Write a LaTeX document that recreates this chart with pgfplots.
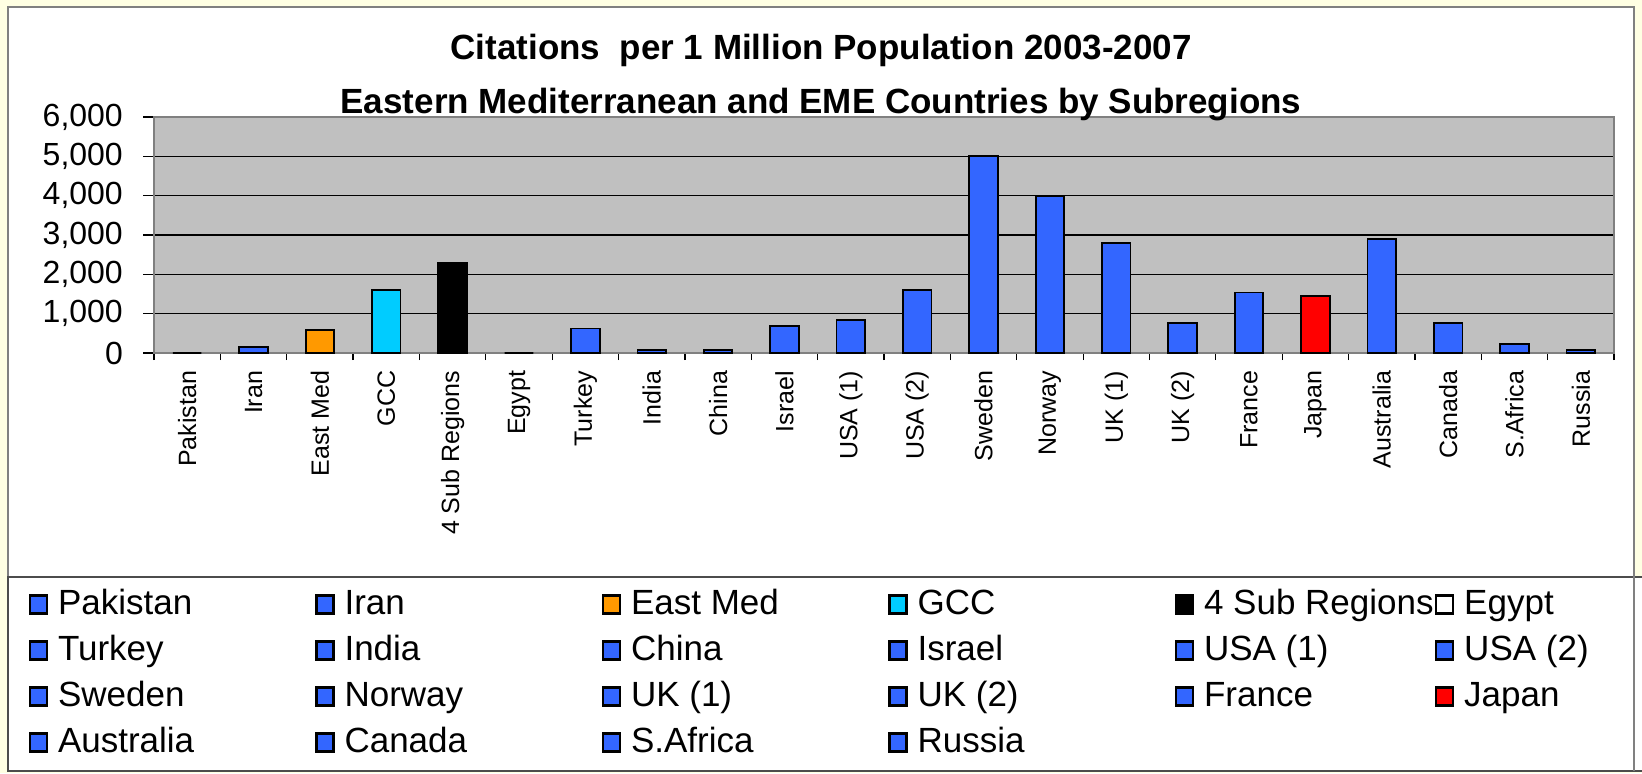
\documentclass[border=0pt]{standalone}
\usepackage{fontspec}
\setmainfont{Liberation Sans}
\usepackage{pgfplots}
\pgfplotsset{compat=1.18}
\definecolor{bgyellow}{HTML}{FFFFE3}
\definecolor{barblue}{HTML}{3366FF}
\definecolor{barorange}{HTML}{FF9900}
\definecolor{barcyan}{HTML}{00CCFF}
\definecolor{barred}{HTML}{FF0000}
\definecolor{plotgray}{HTML}{C0C0C0}
\definecolor{framegray}{HTML}{808080}
\newcommand{\E}[1]{\makebox[128.65pt][l]{#1}}
\newcommand{\F}[1]{\makebox[115.5pt][l]{#1}}
\pgfplotsset{
  sqlegend/.style={legend image code/.code={\draw[##1, line width=1.1pt] (0.5pt,-4.5pt) rectangle (9pt,4.5pt);}},
  b/.style={fill=#1, draw=black, line width=0.9pt},
}
\begin{document}
\begin{tikzpicture}
\useasboundingbox (0pt,0pt) rectangle (821pt,386.5pt);
\fill[bgyellow] (0pt,0pt) rectangle (821pt,386.5pt);
\draw[framegray, line width=0.8pt, fill=white] (4pt,1pt) rectangle (817pt,383pt);
\draw[black!70, line width=0.8pt, fill=white] (4pt,1pt) rectangle (821.5pt,98pt);
\draw[framegray, line width=0.8pt] (817pt,1pt) -- (817pt,383pt);
\begin{axis}[
  at={(77pt,210pt)}, anchor=south west,
  width=730pt, height=118pt, scale only axis,
  ymin=0, ymax=6000, xmin=-0.5, xmax=21.5,
  axis background/.style={fill=plotgray},
  ytick={0,1000,...,6000},
  ymajorgrids, grid style={black, line width=0.6pt},
  xtick={0,...,21},
  xticklabels={Pakistan,Iran,East Med,GCC,4 Sub Regions,Egypt,Turkey,India,China,Israel,USA (1),USA (2),Sweden,Norway,UK (1),UK (2),France,Japan,Australia,Canada,S.Africa,Russia},
  major x tick style={draw=none},
  minor xtick={-0.5,0.5,...,21.5},
  tick pos=left,
  tick align=outside,
  major tick length=5.4pt, minor tick length=3.5pt,
  tick style={black, line width=0.6pt},
  x tick label style={rotate=90, anchor=east, font=\fontsize{12.5}{14}\selectfont},
  y tick label style={font=\fontsize{16}{19}\selectfont, inner sep=0pt, xshift=-10pt},
  yticklabel style={/pgf/number format/1000 sep={,}, /pgf/number format/assume math mode=true},
  axis line style={framegray, line width=1.2pt},
  ybar, bar width=14.3pt, bar shift=0pt,
  every axis plot post/.append style={sqlegend},
  legend columns=6,
  legend cell align=left,
  legend style={draw=none, fill=none, at={(axis description cs:-0.0860,-0.98729)}, anchor=north west,
    font=\fontsize{17.5}{20}\selectfont, row sep=5pt, inner sep=0pt,
    nodes={inner sep=0pt, text height=14pt, text depth=4pt},
    /tikz/every odd column/.append style={column sep=5pt},
    /tikz/every even column/.append style={column sep=0pt}},
]
\addplot[b=barblue] coordinates {(0,0)};
\addlegendentry{\E{Pakistan}}
\addplot[b=barblue] coordinates {(1,150)};
\addlegendentry{\E{Iran}}
\addplot[b=barorange] coordinates {(2,580)};
\addlegendentry{\E{East Med}}
\addplot[b=barcyan] coordinates {(3,1600)};
\addlegendentry{\E{GCC}}
\addplot[b=black] coordinates {(4,2300)};
\addlegendentry{\F{4 Sub Regions}}
\addplot[b=white] coordinates {(5,0)};
\addlegendentry{\E{Egypt}}
\addplot[b=barblue] coordinates {(6,625)};
\addlegendentry{\E{Turkey}}
\addplot[b=barblue] coordinates {(7,85)};
\addlegendentry{\E{India}}
\addplot[b=barblue] coordinates {(8,85)};
\addlegendentry{\E{China}}
\addplot[b=barblue] coordinates {(9,690)};
\addlegendentry{\E{Israel}}
\addplot[b=barblue] coordinates {(10,840)};
\addlegendentry{\F{USA (1)}}
\addplot[b=barblue] coordinates {(11,1600)};
\addlegendentry{\E{USA (2)}}
\addplot[b=barblue] coordinates {(12,5000)};
\addlegendentry{\E{Sweden}}
\addplot[b=barblue] coordinates {(13,4000)};
\addlegendentry{\E{Norway}}
\addplot[b=barblue] coordinates {(14,2790)};
\addlegendentry{\E{UK (1)}}
\addplot[b=barblue] coordinates {(15,770)};
\addlegendentry{\E{UK (2)}}
\addplot[b=barblue] coordinates {(16,1540)};
\addlegendentry{\F{France}}
\addplot[b=barred] coordinates {(17,1450)};
\addlegendentry{\E{Japan}}
\addplot[b=barblue] coordinates {(18,2900)};
\addlegendentry{\E{Australia}}
\addplot[b=barblue] coordinates {(19,770)};
\addlegendentry{\E{Canada}}
\addplot[b=barblue] coordinates {(20,220)};
\addlegendentry{\E{S.Africa}}
\addplot[b=barblue] coordinates {(21,85)};
\addlegendentry{\E{Russia}}
\end{axis}
\node[font=\fontsize{17.5}{20}\selectfont\bfseries] at (410.5pt,361.3pt) {Citations~ per 1 Million Population 2003-2007};
\node[font=\fontsize{17.5}{20}\selectfont\bfseries] at (410.5pt,334pt) {Eastern Mediterranean and EME Countries by Subregions};
\end{tikzpicture}
\end{document}
